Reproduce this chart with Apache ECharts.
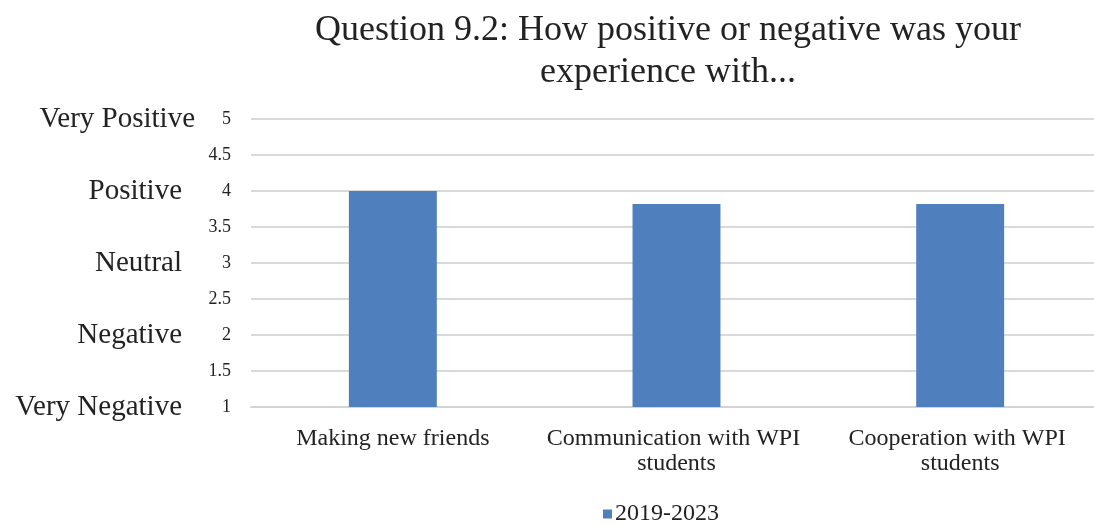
<!DOCTYPE html>
<html>
<head>
<meta charset="utf-8">
<script src="https://cdn.jsdelivr.net/npm/echarts@6/dist/echarts.min.js"></script>
<style>
  html, body { margin: 0; padding: 0; background: #fff; }
  #chart { width: 1094px; height: 524px; }
</style>
</head>
<body>
<div id="chart"></div>
<script>
// Survey responses: mean rating per topic (1 = Very Negative ... 5 = Very Positive)
const categories = ['Making new friends', 'Communication with WPI students', 'Cooperation with WPI students'];
const seriesName = '2019-2023';
const values = [4.0, 3.82, 3.82];
// Verbal anchors for the whole-number ticks 1..5
const ratingNames = ['Very Negative', 'Negative', 'Neutral', 'Positive', 'Very Positive'];
const titleLines = ['Question 9.2: How positive or negative was your', 'experience with...'];

const FONT = '"Liberation Serif", "Times New Roman", serif';
const BLUE = '#4f7fbd';

const chart = echarts.init(document.getElementById('chart'), null, { renderer: 'canvas' });

chart.setOption({
  backgroundColor: '#ffffff',
  animation: false,
  title: {
    text: titleLines.join('\n'),
    left: 663,
    top: 5,
    textAlign: 'center',
    textStyle: {
      fontFamily: FONT,
      fontSize: 36,
      fontWeight: 'normal',
      color: '#222',
      lineHeight: 42
    }
  },
  legend: {
    data: [seriesName],
    left: 598,
    top: 497,
    icon: 'rect',
    itemWidth: 9,
    itemHeight: 9,
    itemGap: 4,
    textStyle: { fontFamily: FONT, fontSize: 24, color: '#222', padding: [0, 0, 0, -2] }
  },
  grid: {
    left: 251,
    width: 851,
    top: 119,
    bottom: 117,
    containLabel: false,
    outerBoundsMode: 'none'
  },
  xAxis: {
    type: 'category',
    data: categories,
    axisLine: { lineStyle: { color: '#d4d4d4', width: 2 } },
    axisTick: { show: false },
    axisLabel: {
      interval: 0,
      margin: 19,
      fontFamily: FONT,
      fontSize: 24,
      color: '#222',
      lineHeight: 25,
      width: 275,
      overflow: 'break'
    }
  },
  yAxis: {
    type: 'value',
    min: 1,
    max: 5,
    interval: 0.5,
    axisLine: { show: false },
    axisTick: { show: false },
    splitLine: { lineStyle: { color: '#dadada', width: 2 } },
    axisLabel: {
      margin: 20,
      color: '#222',
      fontFamily: FONT,
      formatter: function (v) {
        const num = String(v);
        if (Number.isInteger(v)) {
          const name = ratingNames[v - 1];
          if (v === 5) return '{tv|' + name + '}{n5|' + num + '}';
          return '{t|' + name + '}{n|' + num + '}';
        }
        return '{n|' + num + '}';
      },
      rich: {
        t:  { fontFamily: FONT, fontSize: 29, color: '#222', padding: [0, 9, 0, 0] },
        tv: { fontFamily: FONT, fontSize: 29, color: '#222', padding: [0, 9, 0, 0] },
        n:  { fontFamily: FONT, fontSize: 18, color: '#222', width: 40, align: 'right' },
        n5: { fontFamily: FONT, fontSize: 18, color: '#222', width: 27, align: 'right' }
      }
    }
  },
  series: [{
    name: seriesName,
    type: 'bar',
    data: values,
    barWidth: '31%',
    itemStyle: { color: BLUE }
  }]
});
</script>
</body>
</html>
